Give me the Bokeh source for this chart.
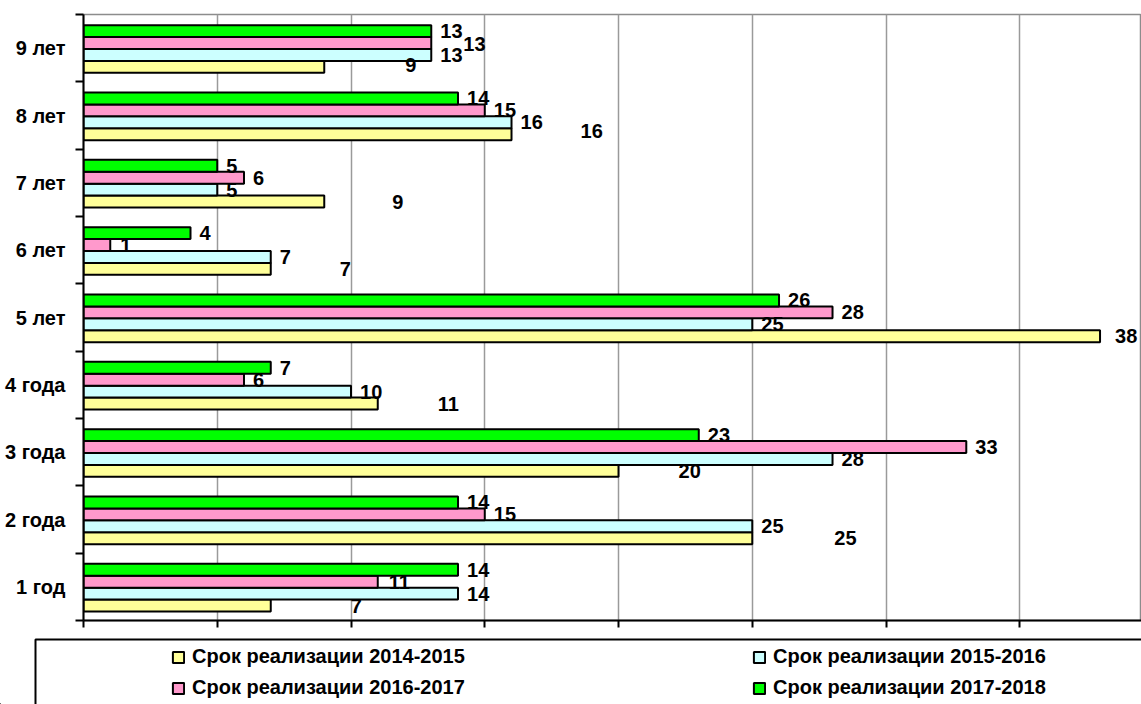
from bokeh.plotting import figure
from bokeh.layouts import column
from bokeh.models import (FixedTicker, Legend, LegendItem, ColumnDataSource,
                          Range1d)
from bokeh.core.properties import value
from bokeh.embed import file_html
from bokeh.resources import INLINE

# ---------------- data ----------------
categories = ["1 год", "2 года", "3 года", "4 года", "5 лет",
              "6 лет", "7 лет", "8 лет", "9 лет"]
series_names = ["Срок реализации 2014-2015", "Срок реализации 2015-2016",
                "Срок реализации 2016-2017", "Срок реализации 2017-2018"]
v2014_2015 = [7, 25, 20, 11, 38, 7, 9, 16, 9]
v2015_2016 = [14, 25, 28, 10, 25, 7, 5, 16, 13]
v2016_2017 = [11, 15, 33, 6, 28, 1, 6, 15, 13]
v2017_2018 = [14, 14, 23, 7, 26, 4, 5, 14, 13]
x_ticks = [0, 5, 10, 15, 20, 25, 30, 35]

# ---------------- styling ----------------
colors = ["#FFFF99", "#CCFFFF", "#FF99CC", "#00FF00"]
bar_h = 0.177
slot = [-1.5, -0.5, 0.5, 1.5]          # bottom -> top inside a category
# label offsets (px) from bar end, mimicking the original label placement
label_dx = [
    [80, 82, 60, 60, 15, 69, 68, 69, 81],
    [9, 9, 9, 9, 9, 9, 9, 9, 9],
    [11, 9, 9, 9, 9, 10, 9, 9, 32],
    [9, 9, 9, 9, 9, 9, 9, 9, 9],
]
label_dy = [
    [0, 0, 0, 0, 0, 0, 0, -3, -2],
    [0, 0, 0, 0, 0, 0, 0, 0, 0],
    [0, 0, 0, 0, 0, 0, 0, 0, 1],
    [0, 0, 0, 0, 0, 0, 0, 0, 0],
]
FONT = "Liberation Sans"

p = figure(width=1141, height=630, output_backend="svg", toolbar_location=None,
           x_range=Range1d(0, 39.55), y_range=Range1d(0, 9),
           min_border_left=83, min_border_top=14, min_border_bottom=10,
           min_border_right=0)
p.frame_align = False
p.background_fill_color = "white"
p.border_fill_color = "white"
p.outline_line_color = "#8c8c8c"
p.outline_line_width = 1.5

all_values = [v2014_2015, v2015_2016, v2016_2017, v2017_2018]
for k, vals in enumerate(all_values):
    ys = [i + 0.5 - 0.012 + slot[k] * bar_h for i in range(len(categories))]
    src = ColumnDataSource(dict(y=ys, right=vals))
    p.hbar(y="y", left=0, right="right", height=bar_h, source=src,
           fill_color=colors[k], line_color="black", line_width=2)
for k, vals in enumerate(all_values):
    ys = [i + 0.5 - 0.012 + slot[k] * bar_h for i in range(len(categories))]
    src = ColumnDataSource(dict(x=vals, y=ys, txt=[str(v) for v in vals],
                                dx=label_dx[k], dy=label_dy[k]))
    p.text(x="x", y="y", text="txt", x_offset="dx", y_offset="dy", source=src,
           text_font=value(FONT), text_font_style="bold",
           text_font_size="20px", text_color="black",
           text_align="left", text_baseline="middle")

# x axis: ticks only
p.xaxis.ticker = FixedTicker(ticks=x_ticks)
p.xaxis.major_label_overrides = {t: "" for t in x_ticks}
p.xaxis.major_label_standoff = 0
p.xaxis.major_tick_out = 7
p.xaxis.major_tick_in = 0
p.xaxis.major_tick_line_color = "black"
p.xaxis.major_tick_line_width = 2
p.xaxis.axis_line_color = "black"
p.xaxis.axis_line_width = 2
p.xaxis.minor_tick_line_color = None

# y axis: category labels at band centres, ticks on band boundaries
p.yaxis.ticker = FixedTicker(ticks=[i + 0.5 for i in range(len(categories))],
                             minor_ticks=list(range(len(categories) + 1)))
p.yaxis.major_label_overrides = {i + 0.5: c for i, c in enumerate(categories)}
p.yaxis.major_tick_out = 0
p.yaxis.major_tick_in = 0
p.yaxis.minor_tick_out = 8
p.yaxis.minor_tick_in = 0
p.yaxis.minor_tick_line_color = "black"
p.yaxis.minor_tick_line_width = 2
p.yaxis.axis_line_color = "black"
p.yaxis.axis_line_width = 2
p.yaxis.major_label_standoff = 10
p.yaxis.major_label_text_font = FONT
p.yaxis.major_label_text_font_style = "bold"
p.yaxis.major_label_text_font_size = "20px"
p.yaxis.major_label_text_color = "black"

p.xgrid.ticker = FixedTicker(ticks=x_ticks)
p.xgrid.grid_line_color = "#9a9a9a"
p.xgrid.grid_line_width = 1.5
p.ygrid.grid_line_color = None

# ---------------- legend panel ----------------
lg = figure(width=1141, height=74, output_backend="svg", toolbar_location=None,
            x_range=Range1d(0, 1141), y_range=Range1d(0, 74),
            x_axis_location=None, y_axis_location=None,
            min_border_left=0, min_border_right=0, min_border_top=0,
            min_border_bottom=0)
lg.frame_align = False
lg.grid.visible = False
lg.outline_line_color = None
lg.background_fill_color = "white"
lg.border_fill_color = "white"
# legend frame (its right and bottom edges lie outside the picture)
lg.multi_line(xs=[[35, 35, 1200]], ys=[[-10, 65, 65]],
              line_color="black", line_width=2)
dummies = []
for k in range(4):
    dummies.append(lg.hbar(y=[-1000], left=[-1000], right=[-999], height=1,
                           fill_color=colors[k], line_color="black",
                           line_width=2))
legend = Legend(items=[LegendItem(label=n, renderers=[r])
                       for n, r in zip(series_names, dummies)],
                orientation="horizontal", ncols=2,
                location=(171, 5),
                glyph_width=14, glyph_height=14, label_standoff=7,
                label_width=552, spacing=8, padding=0, margin=0,
                border_line_alpha=0, background_fill_alpha=0,
                label_text_font=FONT, label_text_font_style="bold",
                label_text_font_size="20px", label_text_color="black",
                label_text_baseline="middle")
lg.add_layout(legend, "center")

layout = column(p, lg, spacing=0)
open("out.html", "w").write(file_html(layout, INLINE))
